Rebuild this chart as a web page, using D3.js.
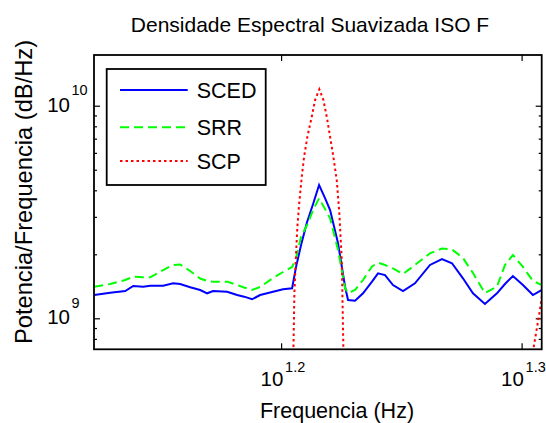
<!DOCTYPE html>
<html>
<head>
<meta charset="utf-8">
<script src="https://cdn.jsdelivr.net/npm/d3@7"></script>
<style>
  body { margin: 0; background: #fff; }
  svg { display: block; }
  text { font-family: "Liberation Sans", Arial, Helvetica, sans-serif; fill: #000; }
</style>
</head>
<body>
<svg id="chart" width="546" height="423"></svg>
<script>
// Frequency grid (Hz) shared by the two smoothed spectra
const freqHz = [
  13.253, 13.457, 13.652, 13.757, 13.889, 13.982, 14.157, 14.293, 14.389, 14.528,
  14.667, 14.766, 14.851, 15.051, 15.196, 15.298, 15.415, 15.534, 15.728, 15.879,
  16.017, 16.078, 16.155, 16.248, 16.342, 16.436, 16.530, 16.610, 16.737, 16.850,
  16.898, 17.012, 17.142, 17.290, 17.390, 17.507, 17.641, 17.811, 18.016, 18.277,
  18.488, 18.666, 18.863, 19.045, 19.264, 19.487, 19.637, 19.787, 19.978, 20.170,
  20.344
];

// SCED power spectral density
const sced = [
  1.287e9, 1.320e9, 1.344e9, 1.419e9, 1.408e9, 1.424e9, 1.424e9, 1.461e9, 1.450e9, 1.399e9,
  1.359e9, 1.311e9, 1.344e9, 1.334e9, 1.287e9, 1.264e9, 1.229e9, 1.287e9, 1.334e9, 1.369e9,
  1.384e9, 1.749e9, 2.212e9, 2.838e9, 3.447e9, 4.236e9, 3.679e9, 3.231e9, 2.253e9, 1.408e9,
  1.219e9, 1.210e9, 1.311e9, 1.487e9, 1.628e9, 1.598e9, 1.434e9, 1.344e9, 1.461e9, 1.782e9,
  1.901e9, 1.815e9, 1.542e9, 1.311e9, 1.168e9, 1.311e9, 1.450e9, 1.581e9, 1.434e9, 1.287e9,
  1.359e9
];

// SRR power spectral density
const srr = [
  1.408e9, 1.450e9, 1.514e9, 1.569e9, 1.559e9, 1.559e9, 1.687e9, 1.782e9, 1.791e9, 1.669e9,
  1.539e9, 1.498e9, 1.487e9, 1.487e9, 1.434e9, 1.396e9, 1.359e9, 1.404e9, 1.547e9, 1.651e9,
  1.744e9, 1.922e9, 2.420e9, 2.747e9, 3.231e9, 3.667e9, 3.266e9, 2.954e9, 2.096e9, 1.384e9,
  1.315e9, 1.359e9, 1.514e9, 1.753e9, 1.827e9, 1.782e9, 1.716e9, 1.616e9, 1.782e9, 2.022e9,
  2.130e9, 2.107e9, 1.922e9, 1.634e9, 1.315e9, 1.408e9, 1.782e9, 1.985e9, 1.744e9, 1.498e9,
  1.434e9
];

// SCP spectrum: narrow peak plus the start of the next lobe
const scpFreqHz = [
  16.009, 16.037, 16.052, 16.073, 16.098, 16.124, 16.166, 16.202, 16.253, 16.321,
  16.373, 16.440, 16.504, 16.557, 16.610, 16.662, 16.716, 16.758, 16.769, 16.797,
  16.822, 16.850, 18.500, 20.112, 20.175, 20.247, 20.305, 20.369
];
const scp = [
  3.0e8, 7.10e8, 1.311e9, 1.881e9, 2.697e9, 3.411e9, 4.636e9, 5.756e9, 7.145e9, 8.877e9,
  1.0637e10, 1.1945e10, 1.0637e10, 8.877e9, 7.145e9, 5.756e9, 4.473e9, 3.118e9, 2.697e9, 1.881e9,
  7.353e8, 3.0e8, 1.0e8, 3.323e8, 7.095e8, 9.00e8, 1.094e9, 1.408e9
];

// Axis limits and ticks
const xDomain = [13.25, 20.34];
const yDomain = [7.148e8, 1.732e10];
const xTickExponents = [1.2, 1.3];
const yTickExponents = [9, 10];
const yMinorTicks = [8e8, 9e8, 2e9, 3e9, 4e9, 5e9, 6e9, 7e9, 8e9, 9e9];

const titleText = "Densidade Espectral Suavizada ISO F";
const xLabelText = "Frequencia (Hz)";
const yLabelText = "Potencia/Frequencia (dB/Hz)";
const seriesNames = ["SCED", "SRR", "SCP"];

const svg = d3.select("#chart");
const box = { left: 94, right: 541.7, top: 55, bottom: 349.3 };

const x = d3.scaleLog().domain(xDomain).range([box.left, box.right]);
const y = d3.scaleLog().domain(yDomain).range([box.bottom, box.top]);

svg.append("rect").attr("width", 546).attr("height", 423).attr("fill", "#fff");

svg.append("defs").append("clipPath").attr("id", "plot-clip")
  .append("rect")
  .attr("x", box.left).attr("y", box.top)
  .attr("width", box.right - box.left).attr("height", box.bottom - box.top);

// Ticks (all drawn inward, MATLAB style)
function styleAxis(g) {
  g.select(".domain").remove();
  g.selectAll(".tick line").attr("stroke", "#000").attr("stroke-width", 1.2);
  g.selectAll(".tick text").remove();
}
const xMajor = xTickExponents.map(e => Math.pow(10, e));
const yMajor = yTickExponents.map(e => Math.pow(10, e));

svg.append("g").attr("transform", `translate(0,${box.bottom})`)
  .call(d3.axisBottom(x).tickValues(xMajor).tickSizeInner(-6).tickSizeOuter(0)).call(styleAxis);
svg.append("g").attr("transform", `translate(0,${box.top})`)
  .call(d3.axisTop(x).tickValues(xMajor).tickSizeInner(-6).tickSizeOuter(0)).call(styleAxis);
svg.append("g").attr("transform", `translate(${box.left},0)`)
  .call(d3.axisLeft(y).tickValues(yMajor).tickSizeInner(-6).tickSizeOuter(0)).call(styleAxis);
svg.append("g").attr("transform", `translate(${box.left},0)`)
  .call(d3.axisLeft(y).tickValues(yMinorTicks).tickSizeInner(-3).tickSizeOuter(0)).call(styleAxis);
svg.append("g").attr("transform", `translate(${box.right},0)`)
  .call(d3.axisRight(y).tickValues(yMajor).tickSizeInner(-6).tickSizeOuter(0)).call(styleAxis);
svg.append("g").attr("transform", `translate(${box.right},0)`)
  .call(d3.axisRight(y).tickValues(yMinorTicks).tickSizeInner(-3).tickSizeOuter(0)).call(styleAxis);

// Power-of-ten tick labels
xTickExponents.forEach(e => {
  const px = x(Math.pow(10, e));
  svg.append("text").attr("x", px + 2.3).attr("y", 386)
    .attr("text-anchor", "end").attr("font-size", 20.5).text("10");
  svg.append("text").attr("x", px + 4).attr("y", 371.7)
    .attr("font-size", 14.5).text(String(e));
});
yTickExponents.forEach(e => {
  const py = y(Math.pow(10, e));
  svg.append("text").attr("x", 70).attr("y", py + 6)
    .attr("text-anchor", "end").attr("font-size", 20.5).text("10");
  svg.append("text").attr("x", 71.5).attr("y", py - 10.7)
    .attr("font-size", 14.5).text(String(e));
});

// Spectra
const line = d3.line().x(d => x(d[0])).y(d => y(d[1]));
const plotG = svg.append("g").attr("clip-path", "url(#plot-clip)");

const styles = [
  { color: "#0000ff", dash: null },
  { color: "#00ff00", dash: "9,5" },
  { color: "#ff0000", dash: "2.5,3" }
];

plotG.append("path").datum(d3.zip(freqHz, sced))
  .attr("d", line).attr("fill", "none")
  .attr("stroke", styles[0].color).attr("stroke-width", 2);
plotG.append("path").datum(d3.zip(freqHz, srr))
  .attr("d", line).attr("fill", "none")
  .attr("stroke", styles[1].color).attr("stroke-width", 2)
  .attr("stroke-dasharray", styles[1].dash);
plotG.append("path").datum(d3.zip(scpFreqHz, scp))
  .attr("d", line).attr("fill", "none")
  .attr("stroke", styles[2].color).attr("stroke-width", 2)
  .attr("stroke-dasharray", styles[2].dash);

// Axes box
svg.append("rect")
  .attr("x", box.left).attr("y", box.top)
  .attr("width", box.right - box.left).attr("height", box.bottom - box.top)
  .attr("fill", "none").attr("stroke", "#000").attr("stroke-width", 1.8);

// Legend
const legend = svg.append("g");
legend.append("rect")
  .attr("x", 106.7).attr("y", 69).attr("width", 159).attr("height", 116)
  .attr("fill", "#fff").attr("stroke", "#000").attr("stroke-width", 1.8);
const legendRows = [90, 127.3, 161];
seriesNames.forEach((name, i) => {
  legend.append("line")
    .attr("x1", 120).attr("x2", 187.7)
    .attr("y1", legendRows[i]).attr("y2", legendRows[i])
    .attr("stroke", styles[i].color).attr("stroke-width", 2)
    .attr("stroke-dasharray", styles[i].dash);
  legend.append("text")
    .attr("x", 196.7).attr("y", legendRows[i] + 8)
    .attr("font-size", 21.5).text(name);
});

// Titles
svg.append("text").attr("x", 310).attr("y", 31.7)
  .attr("text-anchor", "middle").attr("font-size", 21).text(titleText);
svg.append("text").attr("x", 337).attr("y", 418)
  .attr("text-anchor", "middle").attr("font-size", 21.5).text(xLabelText);
svg.append("text")
  .attr("transform", "translate(32,192) rotate(-90)")
  .attr("text-anchor", "middle").attr("font-size", 23.7).text(yLabelText);
</script>
</body>
</html>
